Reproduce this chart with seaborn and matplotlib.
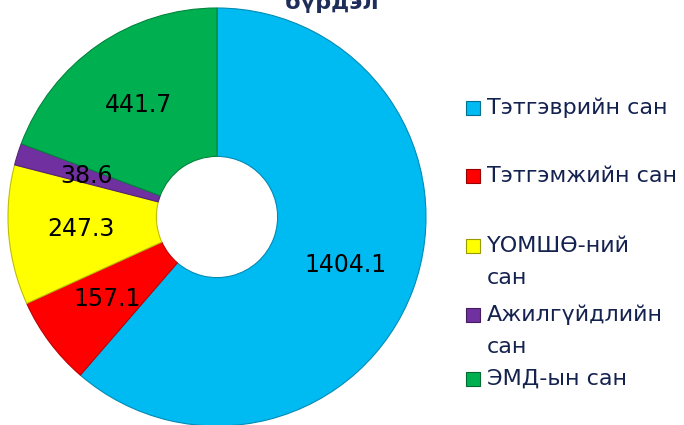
import numpy as np
import matplotlib
matplotlib.use("Agg")
import matplotlib.pyplot as plt
import matplotlib.colors as mcolors
import seaborn as sns

# Fund revenues (billion MNT)
funds = ["Тэтгэврийн сан", "Тэтгэмжийн сан", "ҮОМШӨ-ний сан", "Ажилгүйдлийн сан", "ЭМД-ын сан"]
legend_lines = [["Тэтгэврийн сан"], ["Тэтгэмжийн сан"], ["ҮОМШӨ-ний", "сан"], ["Ажилгүйдлийн", "сан"], ["ЭМД-ын сан"]]
values = [1404.1, 157.1, 247.3, 38.6, 441.7]
colors = ["#00BAF2", "#FF0000", "#FFFF00", "#7030A0", "#00B050"]

sns.set_theme(style="white")
plt.rcParams['font.family'] = ['DejaVu Sans']

W, H = 684, 425
fig = plt.figure(figsize=(W / 100, H / 100), dpi=100)

# donut axes, centre (217, 217) px from top-left, radius 209 px
cx, cy, r = 217, 217, 209
ax = fig.add_axes([(cx - r) / W, (H - cy - r) / H, 2 * r / W, 2 * r / H])
total = sum(values)
wedges, texts, autotexts = ax.pie(values, colors=colors, startangle=90, counterclock=False,
                                  radius=1, autopct=lambda p: f"{p * total / 100:.1f}",
                                  pctdistance=0.655,
                                  wedgeprops=dict(width=0.71, linewidth=0.8),
                                  textprops=dict(fontsize=17, color='black'))
for w, c in zip(wedges, colors):
    w.set_edgecolor(np.array(mcolors.to_rgb(c)) * 0.75)
ax.set_xlim(-1, 1)
ax.set_ylim(-1, 1)
ax.set_aspect('equal')
ax.axis('off')

# title (cut off at top edge in the original)
fig.text(332 / W, 1 - 9 / H, "бүрдэл", ha='center', va='baseline', fontsize=16,
         fontweight='bold', color='#1F2D5A')

# legend drawn by hand to match the spacing of the original
navy = '#14224F'
first_line_y = [108, 176, 246, 315, 379]
line_gap = 32
for lines, y0, c in zip(legend_lines, first_line_y, colors):
    sq = plt.Rectangle((466 / W, 1 - (y0 + 7) / H), 14 / W, 14 / H, transform=fig.transFigure,
                       facecolor=c, edgecolor=np.array(mcolors.to_rgb(c)) * 0.6, linewidth=0.8)
    fig.patches.append(sq)
    for i, line in enumerate(lines):
        fig.text(487 / W, 1 - (y0 + i * line_gap) / H, line, ha='left', va='center',
                 fontsize=16, color=navy)

fig.savefig("out.png", dpi=100)
